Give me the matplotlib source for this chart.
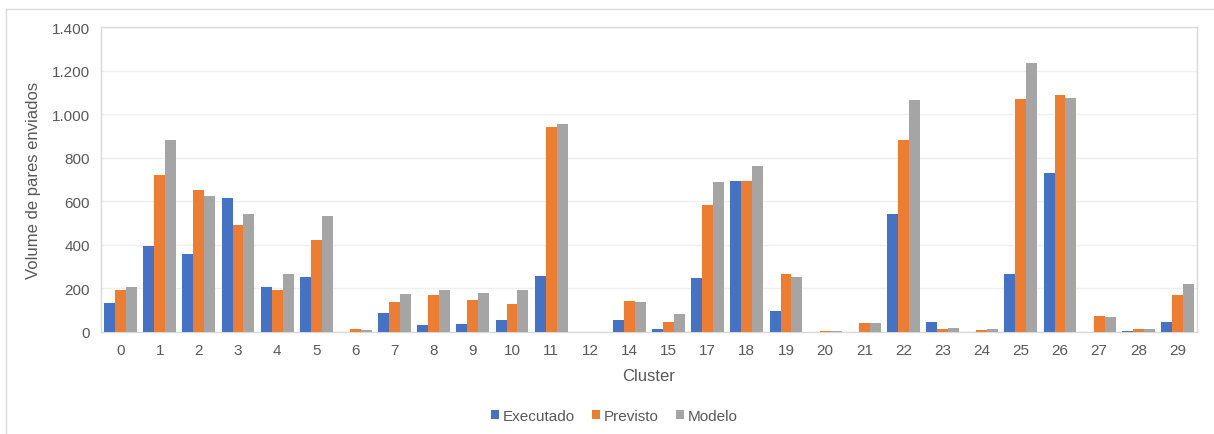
import numpy as np
import matplotlib
matplotlib.use('Agg')
import matplotlib.pyplot as plt
from matplotlib.ticker import FuncFormatter
from matplotlib.lines import Line2D

# dados
clusters = ['0', '1', '2', '3', '4', '5', '6', '7', '8', '9', '10', '11', '12', '14',
            '15', '17', '18', '19', '20', '21', '22', '23', '24', '25', '26', '27', '28', '29']
executado = [133, 394, 357, 617, 206, 253, 0, 89, 31, 38, 55, 257, 0, 55,
             12, 246, 695, 96, 0, 0, 541, 46, 0, 264, 730, 0, 5, 46]
previsto = [191, 721, 654, 490, 194, 421, 14, 140, 170, 147, 130, 942, 0, 144,
            46, 585, 695, 267, 5, 43, 880, 12, 9, 1069, 1090, 73, 15, 170]
modelo = [206, 883, 625, 541, 266, 533, 9, 176, 191, 179, 191, 956, 0, 136,
          82, 690, 764, 253, 5, 43, 1066, 18, 15, 1237, 1072, 70, 15, 220]

plt.rcParams['font.family'] = ['Liberation Sans', 'DejaVu Sans']
cinza_txt = '#595959'

fig = plt.figure(figsize=(12.14, 4.35), dpi=100)
ax = fig.add_axes([101/1214, 102/435, 1096/1214, 305/435])

x = np.arange(len(clusters))
w = 0.28
ax.bar(x - w, executado, w, color='#4472C4', label='Executado', zorder=3)
ax.bar(x, previsto, w, color='#ED7D31', label='Previsto', zorder=3)
ax.bar(x + w, modelo, w, color='#A5A5A5', label='Modelo', zorder=3)

ax.set_xlim(-0.5, len(clusters) - 0.5)
ax.set_ylim(0, 1400)
ax.set_yticks(range(0, 1401, 200))
ax.yaxis.set_major_formatter(FuncFormatter(lambda v, p: f'{int(v):,}'.replace(',', '.')))
ax.set_xticks(x)
ax.set_xticklabels(clusters)
ax.tick_params(axis='both', length=0, labelsize=11, colors=cinza_txt, pad=8)
ax.grid(axis='y', color='#EFEFEF', linewidth=1, zorder=0)
for s in ax.spines.values():
    s.set_color('#D9D9D9')
    s.set_linewidth(1)

ax.set_xlabel('Cluster', fontsize=12, color=cinza_txt, labelpad=8)
ax.set_ylabel('Volume de pares enviados', fontsize=12, color=cinza_txt, labelpad=8)

fig.legend(loc='center', bbox_to_anchor=(0.506, 18/435), ncol=3, frameon=False,
           fontsize=11, labelcolor=cinza_txt, handlelength=0.55, handleheight=0.55,
           handletextpad=0.25, columnspacing=1.1)

# borda externa do gráfico
fig.add_artist(Line2D([6/1214, 6/1214], [0, 425/435], color='#D9D9D9', linewidth=1))
fig.add_artist(Line2D([6/1214, 1], [425/435, 425/435], color='#D9D9D9', linewidth=1))

fig.savefig('out.png', dpi=100)
